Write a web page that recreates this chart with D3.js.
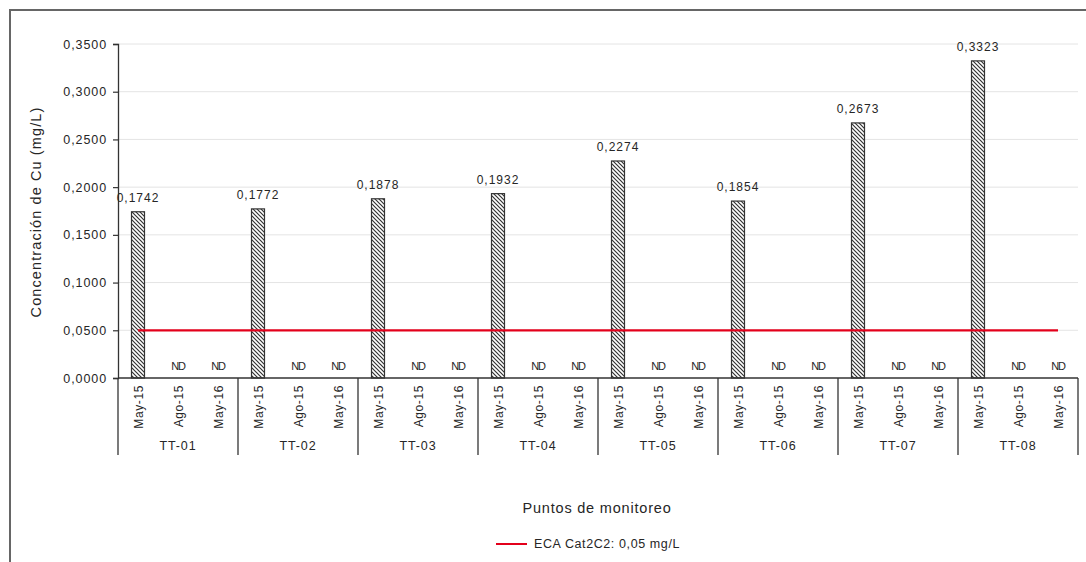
<!DOCTYPE html>
<html>
<head>
<meta charset="utf-8">
<script src="https://cdn.jsdelivr.net/npm/d3@7"></script>
<style>
  html, body { margin: 0; padding: 0; background: #fff; }
  svg { display: block; font-family: "Liberation Sans", Arial, sans-serif; }
</style>
</head>
<body>
<svg id="chart" width="1086" height="562"></svg>
<script>
// Monitoring points and sampling campaigns
const points = ["TT-01", "TT-02", "TT-03", "TT-04", "TT-05", "TT-06", "TT-07", "TT-08"];
const campaigns = ["May-15", "Ago-15", "May-16"];
// Cu concentration (mg/L); null = not detected (ND)
const may15 = [0.1742, 0.1772, 0.1878, 0.1932, 0.2274, 0.1854, 0.2673, 0.3323];
const ago15 = [null, null, null, null, null, null, null, null];
const may16 = [null, null, null, null, null, null, null, null];
// Y-axis ticks and the ECA standard
const yTicks = [0, 0.05, 0.10, 0.15, 0.20, 0.25, 0.30, 0.35];
const ecaLimit = 0.05;
const ecaLabel = "ECA Cat2C2: 0,05 mg/L";

const series = [may15, ago15, may16];
const rows = [];
points.forEach((p, i) => {
  campaigns.forEach((c, j) => {
    rows.push({ key: p + "|" + c, point: p, campaign: c, value: series[j][i] });
  });
});

const svg = d3.select("#chart");
const plotL = 118, plotR = 1078, plotT = 44, plotB = 378;
const ink = "#262626";

const x = d3.scaleBand().domain(rows.map(d => d.key)).range([plotL, plotR]).padding(0);
const y = d3.scaleLinear().domain([0, 0.35]).range([plotB, plotT]);
const fmt = v => d3.format(".4f")(v).replace(".", ",");

// Outer frame
svg.append("rect").attr("x", 10).attr("y", 10).attr("width", 1100).attr("height", 600)
  .attr("fill", "none").attr("stroke", "#666").attr("stroke-width", 2);

// Hatch pattern for bars
const defs = svg.append("defs");
const pat = defs.append("pattern").attr("id", "hatch").attr("patternUnits", "userSpaceOnUse")
  .attr("width", 4).attr("height", 4);
pat.append("rect").attr("width", 4).attr("height", 4).attr("fill", "#fff");
pat.append("path").attr("d", "M-1,-1 L5,5 M-1,3 L1,5 M3,-1 L5,1")
  .attr("stroke", "#333").attr("stroke-width", 1.2);

// Gridlines
svg.append("g").selectAll("line").data(yTicks.filter(t => t > 0)).join("line")
  .attr("x1", plotL).attr("x2", plotR)
  .attr("y1", d => y(d)).attr("y2", d => y(d))
  .attr("stroke", "#e4e4e4").attr("stroke-width", 1);

// Y axis
const yAxis = d3.axisLeft(y).tickValues(yTicks).tickFormat(fmt).tickSize(5).tickPadding(6);
const gy = svg.append("g").attr("transform", `translate(${plotL},0)`).call(yAxis);
gy.select(".domain").attr("stroke", "#333").attr("stroke-width", 1.3);
gy.selectAll(".tick line").attr("stroke", "#333").attr("stroke-width", 1.2);
gy.selectAll("text").attr("font-size", 12.5).attr("letter-spacing", 0.9).attr("fill", ink);

// Y label
svg.append("text").attr("transform", `translate(41,${(plotT + plotB) / 2 + 1}) rotate(-90)`)
  .attr("text-anchor", "middle").attr("font-size", 14.5).attr("letter-spacing", 1.1).attr("fill", ink)
  .text("Concentración de Cu (mg/L)");

// Bars
const det = rows.filter(d => d.value !== null);
const bw = 13;
svg.append("g").selectAll("rect").data(det).join("rect")
  .attr("x", d => x(d.key) + x.bandwidth() / 2 - bw / 2)
  .attr("y", d => y(d.value))
  .attr("width", bw)
  .attr("height", d => y(0) - y(d.value))
  .attr("fill", "url(#hatch)").attr("stroke", "#333").attr("stroke-width", 1.2);

// Value labels
svg.append("g").selectAll("text").data(det).join("text")
  .attr("x", d => x(d.key) + x.bandwidth() / 2)
  .attr("y", d => y(d.value) - 10)
  .attr("text-anchor", "middle").attr("font-size", 12).attr("letter-spacing", 1).attr("fill", ink)
  .text(d => fmt(d.value));

// ND labels
svg.append("g").selectAll("text").data(rows.filter(d => d.value === null)).join("text")
  .attr("x", d => x(d.key) + x.bandwidth() / 2)
  .attr("y", y(0) - 8)
  .attr("text-anchor", "middle").attr("font-size", 11).attr("fill", ink)
  .attr("letter-spacing", -1.2)
  .text("ND");

// ECA line
const eca = d3.line().x(d => x(d.key) + x.bandwidth() / 2).y(() => y(ecaLimit));
svg.append("path").datum(rows).attr("d", eca)
  .attr("fill", "none").attr("stroke", "#e3001b").attr("stroke-width", 2.2);

// X axis baseline
svg.append("line").attr("x1", plotL).attr("x2", plotR).attr("y1", plotB).attr("y2", plotB)
  .attr("stroke", "#333").attr("stroke-width", 1.3);

// Campaign tick labels (rotated)
svg.append("g").selectAll("text").data(rows).join("text")
  .attr("transform", d => `translate(${x(d.key) + x.bandwidth() / 2 + 4.5},${plotB + 7}) rotate(-90)`)
  .attr("text-anchor", "end").attr("font-size", 12).attr("letter-spacing", 0.6).attr("fill", ink)
  .text(d => d.campaign);

// Group separators
const gx = d3.scaleBand().domain(points).range([plotL, plotR]);
const seps = points.map(p => gx(p)).concat([plotR]);
svg.append("g").selectAll("line").data(seps).join("line")
  .attr("x1", d => d).attr("x2", d => d)
  .attr("y1", plotB).attr("y2", 455)
  .attr("stroke", "#333").attr("stroke-width", 1.3);

// Group labels
svg.append("g").selectAll("text").data(points).join("text")
  .attr("x", d => gx(d) + gx.bandwidth() / 2).attr("y", 450)
  .attr("text-anchor", "middle").attr("font-size", 12.5).attr("letter-spacing", 0.9).attr("fill", ink)
  .text(d => d);

// X title
svg.append("text").attr("x", 597).attr("y", 513).attr("text-anchor", "middle")
  .attr("font-size", 14.5).attr("letter-spacing", 0.8).attr("fill", ink).text("Puntos de monitoreo");

// Legend
svg.append("line").attr("x1", 496).attr("x2", 527).attr("y1", 544).attr("y2", 544)
  .attr("stroke", "#e3001b").attr("stroke-width", 2);
svg.append("text").attr("x", 534).attr("y", 548).attr("font-size", 12.5).attr("letter-spacing", 0.6).attr("fill", ink)
  .text(ecaLabel);
</script>
</body>
</html>
